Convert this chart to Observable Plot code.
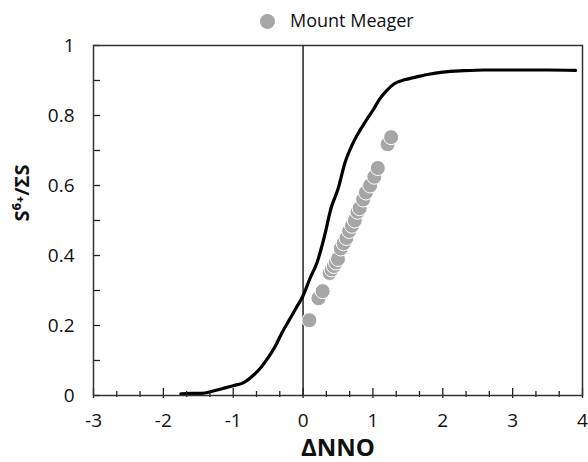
<!DOCTYPE html>
<html>
<head>
<meta charset="utf-8">
<script src="https://cdn.jsdelivr.net/npm/d3@7"></script>
<script src="https://cdn.jsdelivr.net/npm/@observablehq/plot@0.6"></script>
<style>
  body { margin: 0; background: #fff; font-family: "Open Sans", sans-serif; }
  #legend { position: relative; height: 32px; width: 588px; }
  #legend .sw { position: absolute; left: 260px; top: 14px; width: 15px; height: 15px; border-radius: 50%; background: #a6a6a6; }
  #legend .lb { position: absolute; left: 290px; top: 8px; font-size: 18px; color: #111; line-height: 24px; }
</style>
</head>
<body>
<div id="legend"><span class="sw"></span><span class="lb"></span></div>
<div id="chart"></div>
<script>
// ---- data ----
const seriesName = "Mount Meager";
const xLabel = "ΔNNO";
const yLabel = "S⁶⁺/ΣS";

const curveX = [-1.75,-1.6,-1.45,-1.3,-1.15,-1.0,-0.85,-0.7,-0.6,-0.5,-0.4,-0.3,-0.2,-0.1,0,0.1,0.2,0.3,0.4,0.5,0.6,0.7,0.8,0.9,1.0,1.1,1.2,1.3,1.45,1.6,1.8,2.0,2.3,2.6,3.0,3.5,3.9];
const curveY = [0.005,0.006,0.006,0.012,0.02,0.028,0.037,0.06,0.081,0.108,0.14,0.18,0.215,0.25,0.285,0.335,0.38,0.45,0.535,0.59,0.665,0.715,0.753,0.785,0.815,0.848,0.872,0.89,0.902,0.909,0.918,0.924,0.928,0.93,0.93,0.93,0.929];

const pointX = [0.09,0.22,0.28,0.38,0.41,0.44,0.47,0.50,0.54,0.58,0.62,0.66,0.70,0.74,0.78,0.81,0.86,0.90,0.96,1.02,1.07,1.21,1.26];
const pointY = [0.215,0.278,0.298,0.35,0.36,0.37,0.38,0.39,0.42,0.435,0.45,0.47,0.485,0.50,0.525,0.535,0.56,0.58,0.60,0.625,0.65,0.718,0.738];

const xMajor = [-3,-2,-1,0,1,2,3,4];
const xMinor = d3.range(-3, 4.0001, 1/3).filter(v => Math.abs(v - Math.round(v)) > 1e-6);
const yMajor = [0,0.2,0.4,0.6,0.8,1];
const yMinor = [0.1,0.3,0.5,0.7,0.9];

// ---- layout ----
const W = 588, H = 430, mt = 13, mb = 67, ml = 93, mr = 6;
const innerW = W - ml - mr, innerH = H - mt - mb;
const xDom = [-3, 4], yDom = [0, 1];
const pxX = (xDom[1] - xDom[0]) / innerW;   // data units per pixel
const pxY = (yDom[1] - yDom[0]) / innerH;
const font = "Open Sans, sans-serif";

document.querySelector("#legend .lb").textContent = seriesName;

const curve = curveX.map((x, i) => ({x, y: curveY[i]}));
const pts = pointX.map((x, i) => ({x, y: pointY[i]}));

const chart = Plot.plot({
  width: W, height: H,
  marginTop: mt, marginBottom: mb, marginLeft: ml, marginRight: mr,
  style: {fontFamily: font, background: "#fff", color: "#111"},
  x: {domain: xDom},
  y: {domain: yDom},
  marks: [
    Plot.ruleX([0], {stroke: "#000", strokeWidth: 1.3}),
    Plot.line(curve, {x: "x", y: "y", stroke: "#000", strokeWidth: 3.2, curve: "monotone-x"}),
    Plot.dot(pts, {x: "x", y: "y", r: 7.5, fill: "#a6a6a6", stroke: "#fff", strokeWidth: 1}),
    // ticks (inward, slightly crossing the x axis)
    Plot.ruleX(xMajor, {x: d => d, y1: yDom[0] - 3 * pxY, y2: yDom[0] + 7 * pxY, stroke: "#222", strokeWidth: 1.3}),
    Plot.ruleX(xMinor, {x: d => d, y1: yDom[0] - 2 * pxY, y2: yDom[0] + 4 * pxY, stroke: "#222", strokeWidth: 1.3}),
    Plot.ruleY(yMajor.concat(yMinor), {y: d => d, x1: xDom[0], x2: xDom[0] + 7 * pxX, stroke: "#222", strokeWidth: 1.3}),
    Plot.axisX(xMajor, {tickSize: 0, tickPadding: 18, fontSize: 19, tickFormat: d => String(d), label: null}),
    Plot.axisY(yMajor, {tickSize: 0, tickPadding: 19, fontSize: 19, tickFormat: d => String(d), label: null}),
    Plot.frame({stroke: "#333", strokeWidth: 1.5}),
    Plot.text([xLabel], {frameAnchor: "bottom", dy: 53, text: d => d, fontSize: 24, fontWeight: "bold", lineAnchor: "middle", fill: "#111"}),
    Plot.text([yLabel], {frameAnchor: "left", dx: -71, dy: 1, rotate: -90, text: d => d, fontSize: 20, fontWeight: "bold", lineAnchor: "middle", fill: "#111"})
  ]
});
document.getElementById("chart").appendChild(chart);
</script>
</body>
</html>
